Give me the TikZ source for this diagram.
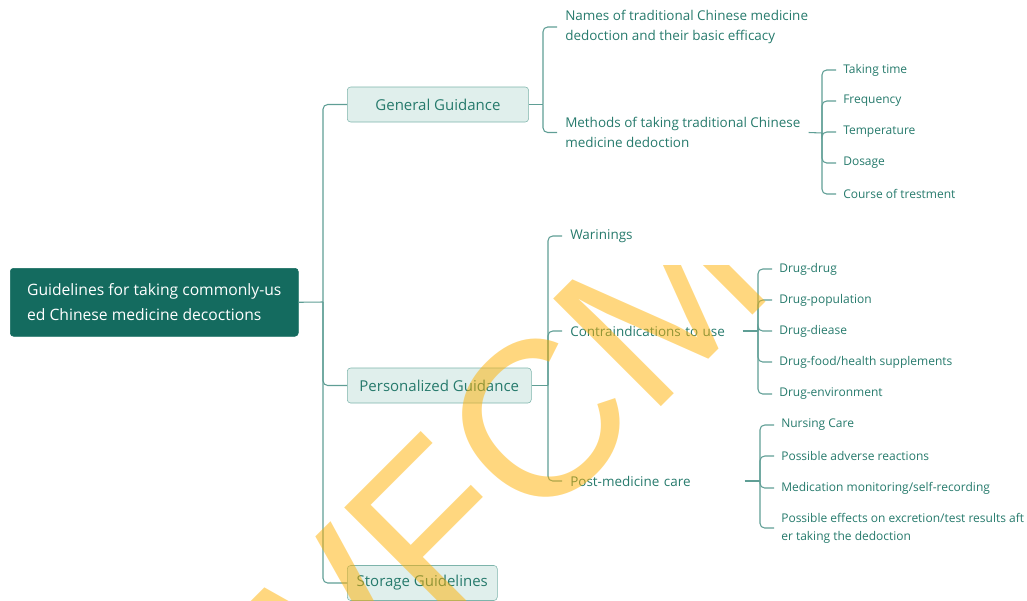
\documentclass[tikz,border=0pt]{standalone}
\usepackage{fontspec}
\setmainfont{Open Sans}
\newfontfamily\wmfont{Liberation Sans}
\usetikzlibrary{positioning}

\definecolor{rootteal}{RGB}{20,107,95}
\definecolor{boxfill}{RGB}{224,239,236}
\definecolor{boxline}{RGB}{125,180,171}
\definecolor{linkteal}{RGB}{95,158,149}
\definecolor{textteal}{RGB}{38,122,108}
\definecolor{wmyellow}{RGB}{255,176,0}

\tikzset{
  rootbox/.style={draw=rootteal,fill=rootteal,text=white,rounded corners=2.5pt,align=left,anchor=north west,
    font=\fontsize{11.75}{18.75}\selectfont,minimum width=216pt,minimum height=51pt},
  mainbox/.style={draw=boxline,fill=boxfill,text=textteal,rounded corners=2.5pt,anchor=west,
    minimum height=26.25pt,font=\fontsize{11.25}{14}\selectfont},
  topic/.style={anchor=west,text=textteal,align=left,inner xsep=6pt,inner ysep=1pt,font=\fontsize{10.1}{15.5}\selectfont},
  subtopic/.style={anchor=west,text=textteal,align=left,inner xsep=5.25pt,inner ysep=1pt,font=\fontsize{9}{13.5}\selectfont},
  link/.style={draw=linkteal,line width=0.8pt,rounded corners=3.5pt},
  wmark/.style={text=wmyellow,text opacity=0.5,rotate=45,anchor=base west,inner sep=0pt,
    font=\wmfont\fontsize{166}{166}\selectfont}
}

\begin{document}
\begin{tikzpicture}[x=0.75pt,y=-0.75pt]
  \useasboundingbox (0,0) rectangle (1027,600);
  % root and main branches
  \node[rootbox] (root) at (10,268) {Guidelines for taking commonly-us\\ed Chinese medicine decoctions};
  \node[mainbox,minimum width=136pt] (gen) at (347,104.5) {General Guidance};
  \node[mainbox,minimum width=138pt] (pers) at (347,385.5) {Personalized Guidance};
  \node[mainbox,minimum width=112.5pt] (stor) at (347,583) {Storage Guidelines};
  \coordinate (rj) at (323,302);
  \draw[link] (root.east) -- (rj);
  \foreach \name in {gen,pers,stor} \draw[link] (rj) |- (\name.west);

  % general guidance
  \node[topic] (names) at (557,27) {Names of traditional Chinese medicine\\dedoction and their basic efficacy};
  \node[topic] (meth) at (557,132.5) {Methods of taking traditional Chinese\\medicine dedoction};
  \coordinate (gj) at (543,104.5);
  \draw[link] (gen.east) -- (gj);
  \foreach \name in {names,meth} \draw[link] (gj) |- (\name.west);

  \coordinate (mj) at (822,133);
  \draw[link] (meth.east) -- (mj);
  \foreach \y/\name/\txt in {70/take/Taking time,101/freq/Frequency,132/temp/Temperature,
      163/dose/Dosage,194/course/Course of trestment}{
    \node[subtopic] (\name) at (836,\y) {\txt};
    \draw[link] (mj) |- (\name.west);
  }

  % personalized guidance
  \node[topic] (warn) at (562,236) {Warinings};
  \node[topic,text width=123pt] (contra) at (562,331) {Contraindications to use};
  \node[topic,text width=124.5pt] (post) at (562,481) {Post-medicine care};
  \coordinate (pj) at (548,385.5);
  \draw[link] (pers.east) -- (pj);
  \foreach \name in {warn,contra,post} \draw[link] (pj) |- (\name.west);

  \coordinate (cj) at (758,331);
  \draw[link] (contra.east) -- (cj);
  \foreach \y/\name/\txt in {269/ddrug/Drug-drug,300/dpop/Drug-population,331/ddis/Drug-diease,
      362/dfood/{Drug-food/health supplements},394/denv/Drug-environment}{
    \node[subtopic] (\name) at (772,\y) {\txt};
    \draw[link] (cj) |- (\name.west);
  }

  \coordinate (qj) at (760,481);
  \draw[link] (post.east) -- (qj);
  \foreach \y/\name/\txt in {425/nurse/Nursing Care,456/adverse/Possible adverse reactions,
      488/monitor/{Medication monitoring/self-recording},
      528/effects/{Possible effects on excretion/test results aft\\er taking the dedoction}}{
    \node[subtopic] (\name) at (774,\y) {\txt};
    \draw[link] (qj) |- (\name.west);
  }

  % watermark
  \begin{scope}
    \clip (0,265) rectangle (1027,600);
    \node[wmark] (wm) at (291.5,776.5) {WFCMS};
  \end{scope}
\end{tikzpicture}
\end{document}
